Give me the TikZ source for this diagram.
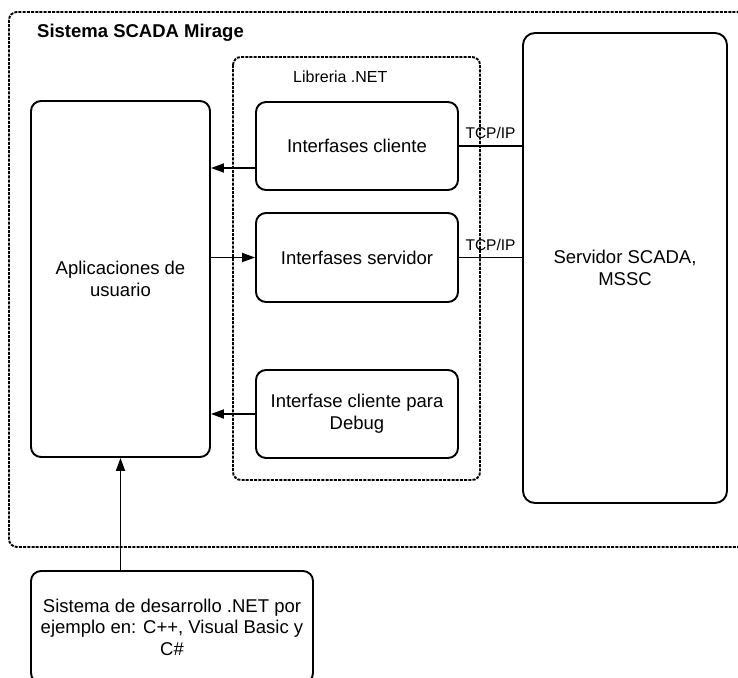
\documentclass[tikz,border=0pt]{standalone}
\usepackage{fontspec}
\setmainfont{Liberation Sans}
\usetikzlibrary{positioning, arrows.meta}

\begin{document}
\begin{tikzpicture}[x=1pt,y=-1pt]
		\tikzstyle{box} = [draw, line width=1.9pt, rounded corners=10pt, align=center, inner sep=0pt, font=\fontsize{18.5}{22}\selectfont]
		\tikzstyle{frame} = [draw, line width=1.9pt, dash pattern=on 3pt off 1.2pt, rounded corners=8pt]
		\tikzstyle{arr} = [-{Triangle[length=13pt,width=9pt]}, line width=1.9pt]
		\tikzstyle{line} = [draw, line width=1.9pt]
		\tikzstyle{lbl} = [inner sep=1pt, font=\fontsize{15.5}{18}\selectfont]
		\useasboundingbox (0,0) rectangle (738,677);
		\clip (0,0) rectangle (738,677);
		\draw [frame] (9,12) rectangle (760,547);
		\draw [frame] (233,57) rectangle (480,480);
		\node [anchor=west, inner sep=0pt, font=\bfseries\fontsize{18.5}{20}\selectfont] (v0) at (37,33) {Sistema SCADA Mirage};
		\node [lbl, anchor=west, font=\fontsize{16}{19}\selectfont] (v9) at (292,77) {Libreria .NET};
		\node [box, minimum width=179pt, minimum height=356pt] (v1) at (120.5,279) {Aplicaciones de\\usuario};
		\node [box, minimum width=202pt, minimum height=88pt] (v2) at (357,146) {Interfases cliente};
		\node [box, minimum width=202pt, minimum height=89pt] (v3) at (357,257.5) {Interfases servidor};
		\node [box, minimum width=202pt, minimum height=88pt] (v4) at (357,414) {Interfase cliente para\\Debug};
		\node [box, minimum width=204pt, minimum height=470pt, rounded corners=12pt] (v5) at (625,268) {Servidor SCADA,\\MSSC};
		\node [box, minimum width=282pt, minimum height=112pt, font=\fontsize{18.5}{21.5}\selectfont] (v6) at (172,627) {Sistema de desarrollo .NET por\\ejemplo en: C++, Visual Basic y\\C\#};
		\draw [arr] ([yshift=-22pt]v2.west) -- ([yshift=-22pt]v2.west -| v1.east);
		\draw [arr] (v3.west -| v1.east) -- (v3.west);
		\draw [arr] (v4.west) -- (v4.west -| v1.east);
		\draw [line] (v2.east) -- node [lbl, above=5pt] {TCP/IP} (v2.east -| v5.west);
		\draw [line] (v3.east) -- node [lbl, above=5pt] {TCP/IP} (v3.east -| v5.west);
		\draw [arr] (v1.south |- v6.north) -- (v1.south);
\end{tikzpicture}
\end{document}
